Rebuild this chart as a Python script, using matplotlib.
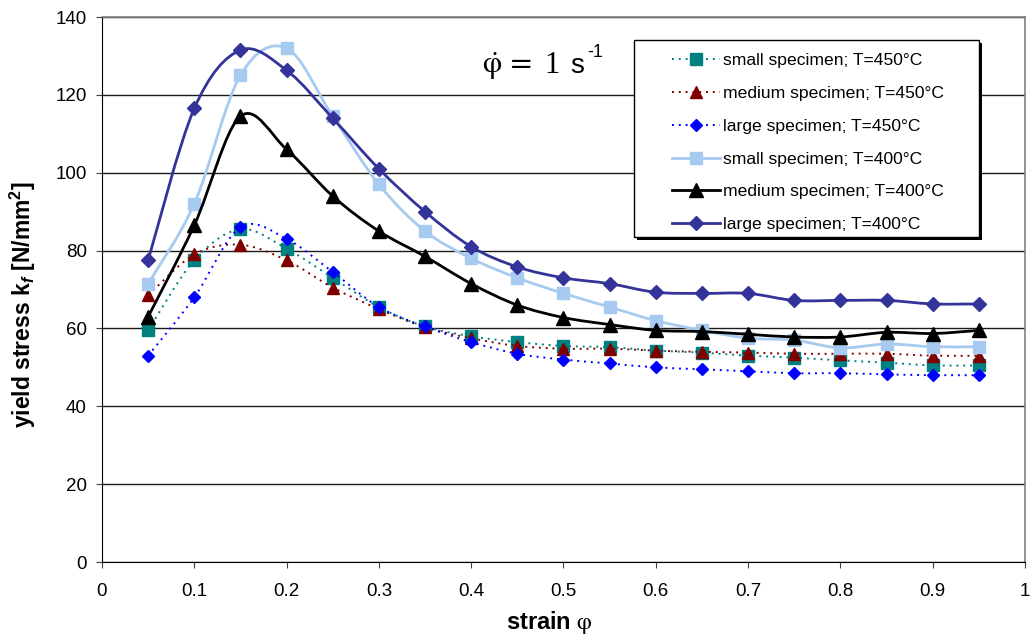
import numpy as np
import matplotlib
matplotlib.use('Agg')
from matplotlib import pyplot as plt
from matplotlib import transforms
from matplotlib.path import Path
from matplotlib.patches import PathPatch, Rectangle
from matplotlib.lines import Line2D

plt.rcParams['font.family'] = ['Liberation Sans', 'DejaVu Sans']
plt.rcParams['mathtext.fontset'] = 'custom'
plt.rcParams['mathtext.rm'] = 'Liberation Sans:bold'
plt.rcParams['mathtext.bf'] = 'Liberation Sans:bold'
plt.rcParams['mathtext.it'] = 'Liberation Sans:bold:italic'

# data
strain = [0.05, 0.1, 0.15, 0.2, 0.25, 0.3, 0.35, 0.4, 0.45, 0.5,
          0.55, 0.6, 0.65, 0.7, 0.75, 0.8, 0.85, 0.9, 0.95]

small_450 = [59.5, 77.5, 85.5, 80.5, 73, 65.5, 60.5, 58, 56.5, 55.5,
             55.2, 54.3, 53.8, 53, 52.5, 51.8, 51.2, 50.5, 50.5]
medium_450 = [68.5, 79, 81.5, 77.5, 70.5, 65, 60.3, 57.5, 55.5, 54.8,
              54.8, 54.3, 54, 53.8, 53.5, 53.5, 53.5, 53, 53]
large_450 = [53, 68, 86, 83, 74.5, 65.5, 60.5, 56.5, 53.5, 52,
             51, 50, 49.5, 49, 48.5, 48.5, 48.2, 48, 48]
small_400 = [71.5, 92, 125, 132, 114.5, 97, 85, 78, 73, 69,
             65.5, 62, 59.5, 57.5, 57, 55, 56, 55.3, 55.3]
medium_400 = [63, 86.5, 114.5, 106, 94, 85, 78.5, 71.5, 66, 62.8,
              61, 59.5, 59.2, 58.5, 57.8, 57.8, 59, 58.7, 59.5]
large_400 = [77.5, 116.5, 131.5, 126.3, 114, 101, 90, 81, 75.8, 73,
             71.5, 69.3, 69, 69, 67.2, 67.2, 67.2, 66.3, 66.3]

labels = ['small specimen; T=450°C', 'medium specimen; T=450°C',
          'large specimen; T=450°C', 'small specimen; T=400°C',
          'medium specimen; T=400°C', 'large specimen; T=400°C']
series = [small_450, medium_450, large_450, small_400, medium_400, large_400]
colors = ['#008080', '#800000', '#0000FF', '#A6CAF0', '#000000', '#333399']
markers = ['s', '^', 'D', 's', '^', 'D']
msizes = [8, 9, 6.5, 9, 9.5, 7]
styles = [(0, (1, 2.5)), (0, (1, 2.5)), (0, (1, 2.5)), '-', '-', '-']
widths = [1.4, 1.4, 1.4, 2.0, 2.0, 2.0]


def smooth_path(x, y):
    # Excel-like smoothed line: cubic bezier through the points
    p = np.column_stack([x, y]).astype(float)
    ext = np.vstack([p[0], p, p[-1]])
    verts = [p[0]]
    codes = [Path.MOVETO]
    for i in range(len(p) - 1):
        c1 = ext[i + 1] + (ext[i + 2] - ext[i]) / 6
        c2 = ext[i + 2] - (ext[i + 3] - ext[i + 1]) / 6
        verts += [c1, c2, ext[i + 2]]
        codes += [Path.CURVE4] * 3
    return Path(verts, codes)


fig = plt.figure(figsize=(10.34, 6.37), dpi=100)
ax = fig.add_axes([0.0986, 0.1177, 0.8927, 0.8556])

handles = []
for k, (ys, lab) in enumerate(zip(series, labels)):
    patch = PathPatch(smooth_path(strain, ys), fill=False, edgecolor=colors[k],
                      linewidth=widths[k], linestyle=styles[k], zorder=3 + k)
    ax.add_patch(patch)
    ax.plot(strain, ys, ls='none', marker=markers[k], ms=msizes[k],
            color=colors[k], mec=colors[k], zorder=3.5 + k)
    handles.append(Line2D([], [], color=colors[k], ls=styles[k], lw=widths[k],
                          marker=markers[k], ms=msizes[k], label=lab))

ax.set_xlim(0, 1)
ax.set_ylim(0, 140)
ax.set_xticks(np.arange(0, 1.01, 0.1))
ax.set_xticklabels(['0', '0.1', '0.2', '0.3', '0.4', '0.5', '0.6', '0.7', '0.8', '0.9', '1'])
ax.set_yticks(np.arange(0, 141, 20))
ax.tick_params(labelsize=13.5, direction='out', length=4, color='#404040')
ax.tick_params(axis='x', pad=11)
ax.tick_params(axis='y', pad=7)
ax.yaxis.grid(True, color='#1a1a1a', linewidth=1.0)
ax.set_axisbelow(True)
for s in ['top', 'right']:
    ax.spines[s].set_color('#808080')
    ax.spines[s].set_linewidth(1.2)
ax.spines['left'].set_color('#000000')
ax.spines['bottom'].set_color('#000000')

ax.set_xlabel(r'strain $\mathrm{\varphi}$', fontsize=17, fontweight='bold',
              math_fontfamily='stix')
ax.xaxis.set_label_coords(0.4843, -0.086)
ax.set_ylabel(r'yield stress k$_{\mathit{f}}$ [N/mm$^{2}$]', fontsize=16.5,
              fontweight='bold')
ax.yaxis.set_label_coords(-0.069, 0.4716)

# strain rate annotation
tr = ax.transAxes
ax.text(0.4118, 0.8972, r'$\dot{\mathrm{\varphi}}$', transform=tr, fontsize=22,
        va='baseline', math_fontfamily='stix')
ax.text(0.4410, 0.8972, '=', transform=tr, family='DejaVu Serif', fontsize=21,
        va='baseline')
ax.text(0.4790, 0.8972, '1', transform=tr, family='Liberation Serif', fontsize=22,
        va='baseline')
ax.text(0.5075, 0.8972, 's', transform=tr, fontsize=20, va='baseline')
ax.text(0.5255, 0.9266, '-1', transform=tr, fontsize=13, va='baseline')

# legend box with shadow, drawn as plain rectangles
lx0, ly0, lw_, lh_ = 0.5764, 0.5963, 0.3738, 0.3615
shadow_tr = transforms.offset_copy(ax.transAxes, fig=fig, x=3, y=-3, units='dots')
ax.add_patch(Rectangle((lx0, ly0), lw_, lh_, transform=shadow_tr, fc='black',
                       ec='none', zorder=18, clip_on=False))
ax.add_patch(Rectangle((lx0, ly0), lw_, lh_, transform=ax.transAxes, fc='white',
                       ec='black', lw=1.0, zorder=19, clip_on=False))

leg = ax.legend(handles=handles, loc='upper left', bbox_to_anchor=(0.6176, 0.9337),
                fontsize=12.6, frameon=False, handlelength=2.75, labelspacing=1.0,
                borderpad=0, handletextpad=0.15, borderaxespad=0)
leg.set_zorder(20)

fig.savefig('out.png', dpi=100)
